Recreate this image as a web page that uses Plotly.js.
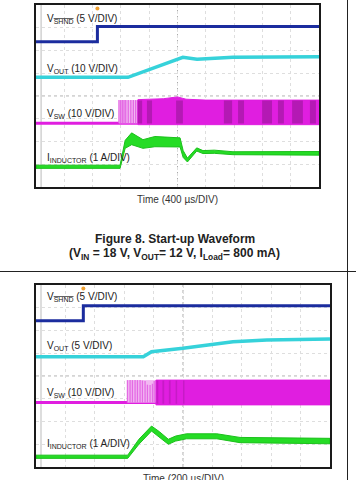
<!DOCTYPE html>
<html>
<head>
<meta charset="utf-8">
<script src="https://cdn.plot.ly/plotly-3.0.1.min.js"></script>
<style>html,body{margin:0;padding:0;background:#fff;}#chart{width:356px;height:480px;}</style>
</head>
<body>
<div id="chart"></div>
<script>
// ---------- DATA (scope divisions: x 0..10, y 0..8) ----------
// Figure 8 (top scope, 400 us/DIV)
const topShndX = [0, 2.17, 2.17, 10];
const topShndY = [6.39, 6.39, 7.05, 7.05];
const topVoutX = [0, 3.25, 5.19, 5.45, 5.69, 6.96, 10];
const topVoutY = [4.82, 4.82, 5.70, 5.65, 5.62, 5.70, 5.72];
const topSwBase = 2.80;
const topSwPulseX = [2.93, 2.99, 3.05, 3.11, 3.17, 3.26, 3.35, 3.44, 3.52, 3.59];
const topSwPulseTop = 3.82;
const topSwBandX = [3.60, 4.50, 5.00, 5.30, 6.00, 10];
const topSwBandTop = [3.84, 3.88, 3.96, 3.86, 3.82, 3.82];
const topSwBandBottom = [2.74, 2.74, 2.74, 2.74, 2.74, 2.74];
const topSwDarkStart = [3.60, 3.92, 4.95, 6.64, 7.14, 7.99, 8.55, 9.05, 9.68];
const topSwDarkEnd   = [3.75, 4.10, 5.19, 6.93, 7.35, 8.34, 8.76, 9.43, 9.89];
const topIndX     = [0, 2.97, 3.15, 3.38, 3.78, 4.20, 5.09, 5.20, 5.35, 5.68, 5.90, 6.30, 6.96, 10];
const topIndUpper = [0.96, 0.96, 2.05, 2.38, 2.08, 2.22, 2.16, 1.60, 1.27, 1.72, 1.60, 1.62, 1.55, 1.56];
const topIndLower = [0.82, 0.82, 1.70, 1.86, 1.70, 1.77, 1.76, 1.30, 1.10, 1.58, 1.47, 1.48, 1.42, 1.40];
const topTrigger = [2.17, 7.85];

// Figure 9 (bottom scope, 200 us/DIV)
const botShndX = [0, 1.61, 1.61, 10];
const botShndY = [6.43, 6.43, 7.09, 7.09];
const botVoutX = [0, 3.65, 3.93, 5.00, 6.70, 7.85, 10];
const botVoutY = [4.85, 4.85, 5.07, 5.22, 5.51, 5.58, 5.63];
const botSwBase = 2.83;
const botSwPulseX = [3.11, 3.20, 3.28, 3.37, 3.45, 3.54, 3.62, 3.71, 3.79, 3.88, 3.96, 4.02];
const botSwPulseTop = [3.82, 3.82, 3.82, 3.82, 3.82, 3.82, 3.80, 3.78, 3.62, 3.60, 3.66, 3.78];
const botSwBandX = [4.08, 10];
const botSwBandTop = [3.82, 3.82];
const botSwBandBottom = [2.73, 2.73];
const botSwDarkStart = [4.10, 4.30, 4.52, 4.75, 5.00];
const botSwDarkEnd   = [4.16, 4.36, 4.58, 4.80, 5.05];
const botIndX     = [0, 3.12, 3.50, 3.93, 4.20, 4.50, 4.75, 5.12, 6.15, 6.94, 10];
const botIndUpper = [0.52, 0.52, 1.22, 1.80, 1.55, 1.22, 1.36, 1.46, 1.46, 1.30, 1.26];
const botIndLower = [0.38, 0.38, 1.00, 1.58, 1.32, 1.00, 1.14, 1.24, 1.24, 1.07, 1.02];
const botTrigger = [1.61, 7.85];

// ---------- helpers ----------
const W = 356, H = 480;
const px = v => v / W;
const py = v => 1 - v / H;
const C = {shnd:'#1b2c9e', vout:'#36d2da', sw:'#e01ee0', swLight:'#f2b8f2', swPulse:'#e46ae4', ind:'#25dc25', indEdge:'#1cc01c', trig:'#f0a030'};

function line(x, y, ax, color, width) {
  return {type:'scatter', mode:'lines', x:x, y:y, xaxis:'x'+ax, yaxis:'y'+ax,
          line:{color:color, width:width, shape:'linear'}, hoverinfo:'skip'};
}
function pulses(xs, base, tops, ax) {
  const X = [], Y = [];
  xs.forEach((v, i) => { const t = Array.isArray(tops) ? tops[i] : tops; X.push(v, v, null); Y.push(base, t, null); });
  return line(X, Y, ax, C.swPulse, 1.3);
}
function lightRegion(x0, x1, base, top, ax) {
  return {type:'scatter', mode:'lines', x:[x0, x1, x1, x0, x0], y:[base, base, top, top, base],
          xaxis:'x'+ax, yaxis:'y'+ax, fill:'toself', fillcolor:C.swLight, line:{width:0}, hoverinfo:'skip'};
}
function band(x, top, bottom, ax, fillcolor, edge, ew) {
  const X = x.concat(x.slice().reverse(), [x[0]]);
  const Y = top.concat(bottom.slice().reverse(), [top[0]]);
  return {type:'scatter', mode:'lines', x:X, y:Y, xaxis:'x'+ax, yaxis:'y'+ax, fill:'toself',
          fillcolor:fillcolor, line:{color:edge, width:ew}, hoverinfo:'skip'};
}
function darks(starts, ends, lo, hi, ax, alpha) {
  const X = [], Y = [];
  starts.forEach((s, i) => { const e = ends[i]; X.push(s, e, e, s, s, null); Y.push(lo, lo, hi, hi, lo, null); });
  return {type:'scatter', mode:'lines', x:X, y:Y, xaxis:'x'+ax, yaxis:'y'+ax, fill:'toself',
          fillcolor:'rgba(120,20,120,' + alpha + ')', line:{width:0}, hoverinfo:'skip'};
}
function trig(p, ax) {
  return {type:'scatter', mode:'markers', x:[p[0]], y:[p[1]], xaxis:'x'+ax, yaxis:'y'+ax,
          marker:{color:C.trig, size:4}, hoverinfo:'skip'};
}

function scopeTraces(ax, d, alpha) {
  return [
    line([0, d.swBandX[0]], [d.swBase, d.swBase], ax, C.sw, 3),
    lightRegion(d.swPulseX[0], d.swBandX[0], d.swBase, Array.isArray(d.swPulseTop) ? d.swPulseTop[0] : d.swPulseTop, ax),
    pulses(d.swPulseX, d.swBase, d.swPulseTop, ax),
    band(d.swBandX, d.swBandTop, d.swBandBottom, ax, C.sw, C.sw, 1),
    darks(d.swDarkStart, d.swDarkEnd, d.swBandBottom[0] + 0.05, d.swBandTop[d.swBandTop.length-1] - 0.02, ax, alpha),
    band(d.indX, d.indUpper, d.indLower, ax, C.ind, C.indEdge, 1),
    line(d.voutX, d.voutY, ax, C.vout, 3.5),
    line(d.shndX, d.shndY, ax, C.shnd, 3),
    trig(d.trigger, ax)
  ];
}

const data = [].concat(
  scopeTraces('', {shndX:topShndX, shndY:topShndY, voutX:topVoutX, voutY:topVoutY, swBase:topSwBase,
    swPulseX:topSwPulseX, swPulseTop:topSwPulseTop, swBandX:topSwBandX, swBandTop:topSwBandTop,
    swBandBottom:topSwBandBottom, swDarkStart:topSwDarkStart, swDarkEnd:topSwDarkEnd,
    indX:topIndX, indUpper:topIndUpper, indLower:topIndLower, trigger:topTrigger}, 0.42),
  scopeTraces('2', {shndX:botShndX, shndY:botShndY, voutX:botVoutX, voutY:botVoutY, swBase:botSwBase,
    swPulseX:botSwPulseX, swPulseTop:botSwPulseTop, swBandX:botSwBandX, swBandTop:botSwBandTop,
    swBandBottom:botSwBandBottom, swDarkStart:botSwDarkStart, swDarkEnd:botSwDarkEnd,
    indX:botIndX, indUpper:botIndUpper, indLower:botIndLower, trigger:botTrigger}, 0.25)
);

function xax(domain, anchor) {
  return {domain:domain, anchor:anchor, range:[0,10], dtick:1, tick0:0, showgrid:true, gridcolor:'#dedede',
          griddash:'dot', gridwidth:1, showticklabels:false, ticks:'', zeroline:false, showline:true,
          mirror:true, linecolor:'#1a1a1a', linewidth:2, fixedrange:true};
}
function yax(domain, anchor) {
  return {domain:domain, anchor:anchor, range:[0,8], dtick:1, tick0:0, showgrid:true, gridcolor:'#dedede',
          griddash:'dot', gridwidth:1, showticklabels:false, ticks:'', zeroline:false, showline:true,
          mirror:true, linecolor:'#1a1a1a', linewidth:2, fixedrange:true};
}

const FAM = 'Liberation Sans, Arial, sans-serif';
const lblFont = {family:FAM, size:10, color:'#222'};
function lbl(text, yPix) {
  return {xref:'paper', yref:'paper', x:px(45), y:py(yPix), xanchor:'left', yanchor:'middle',
          text:text, showarrow:false, font:lblFont};
}
const shnd = "V<sub><span style='text-decoration:overline'>SHND</span></sub> (5 V/DIV)";
const annotations = [
  lbl(shnd, 19), lbl('V<sub>OUT</sub> (10 V/DIV)', 69), lbl('V<sub>SW</sub> (10 V/DIV)', 114), lbl('I<sub>INDUCTOR</sub> (1 A/DIV)', 158),
  lbl(shnd, 297), lbl('V<sub>OUT</sub> (5 V/DIV)', 346), lbl('V<sub>SW</sub> (10 V/DIV)', 393), lbl('I<sub>INDUCTOR</sub> (1 A/DIV)', 444),
  {xref:'paper', yref:'paper', x:px(177.5), y:py(199), xanchor:'center', yanchor:'middle', showarrow:false,
   text:'Time (400 µs/DIV)', font:{family:FAM, size:10, color:'#333'}},
  {xref:'paper', yref:'paper', x:px(175), y:py(239), xanchor:'center', yanchor:'middle', showarrow:false,
   text:'<b>Figure 8. Start-up Waveform</b>', font:{family:FAM, size:12, color:'#222'}},
  {xref:'paper', yref:'paper', x:px(174), y:py(254), xanchor:'center', yanchor:'middle', showarrow:false,
   text:'<b>(V<sub>IN</sub> = 18 V, V<sub>OUT</sub>= 12 V, I<sub>Load</sub>= 800 mA)</b>', font:{family:FAM, size:12, color:'#222'}},
  {xref:'paper', yref:'paper', x:px(183), y:py(478), xanchor:'center', yanchor:'middle', showarrow:false,
   text:'Time (200 µs/DIV)', font:{family:FAM, size:10, color:'#333'}}
];

const shapes = [
  {type:'line', xref:'paper', yref:'paper', x0:px(347.5), x1:px(347.5), y0:0, y1:1, line:{color:'#222', width:1}},
  {type:'line', xref:'paper', yref:'paper', x0:0, x1:1, y0:py(271.5), y1:py(271.5), line:{color:'#222', width:1}},
  // scope centre graticule lines
  {type:'line', xref:'x', yref:'y', x0:5, x1:5, y0:0, y1:8, line:{color:'#aaa', width:1, dash:'dot'}, layer:'below'},
  {type:'line', xref:'x', yref:'y', x0:0, x1:10, y0:4, y1:4, line:{color:'#aaa', width:1, dash:'dot'}, layer:'below'},
  {type:'line', xref:'x2', yref:'y2', x0:5, x1:5, y0:0, y1:8, line:{color:'#aaa', width:1, dash:'dot'}, layer:'below'},
  {type:'line', xref:'x2', yref:'y2', x0:0, x1:10, y0:4, y1:4, line:{color:'#aaa', width:1, dash:'dot'}, layer:'below'},
  {type:'line', xref:'x', yref:'y', x0:0.18, x1:0.18, y0:0, y1:8, line:{color:'#bbb', width:1}, layer:'below'},
  {type:'line', xref:'x2', yref:'y2', x0:0.17, x1:0.17, y0:0, y1:8, line:{color:'#bbb', width:1}, layer:'below'}
];

const layout = {
  width:W, height:H, margin:{l:0, r:0, t:0, b:0}, paper_bgcolor:'#fff', plot_bgcolor:'#fff', showlegend:false,
  xaxis: xax([px(36), px(319)], 'y'),
  yaxis: yax([py(187), py(5)], 'x'),
  xaxis2: xax([px(36), px(330)], 'y2'),
  yaxis2: yax([py(467), py(285)], 'x2'),
  annotations: annotations, shapes: shapes
};

Plotly.newPlot('chart', data, layout, {staticPlot:true, displayModeBar:false});
</script>
</body>
</html>
